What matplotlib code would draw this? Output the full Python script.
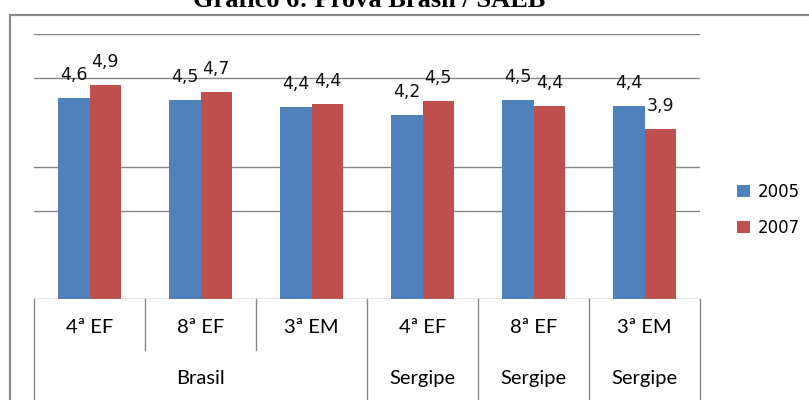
import numpy as np
import matplotlib.pyplot as plt
from matplotlib.patches import Rectangle

# Prova Brasil / SAEB scores
categories = ['4ª EF', '8ª EF', '3ª EM', '4ª EF', '8ª EF', '3ª EM']
groups = ['Brasil', 'Sergipe', 'Sergipe', 'Sergipe']
group_spans = [(0, 3), (3, 4), (4, 5), (5, 6)]
series_names = ['2005', '2007']
values_2005 = [4.56, 4.51, 4.36, 4.17, 4.51, 4.38]
values_2007 = [4.86, 4.69, 4.43, 4.49, 4.38, 3.86]
grid_levels = [2, 3, 5, 6]

blue = '#4F81BD'
red = '#C0504D'
gray = '#868686'

fig = plt.figure(figsize=(8.09, 4.0), dpi=100)
W, H = 809, 400

# outer chart frame
fig.patches.append(Rectangle((10 / W, -0.1), 1.2, (400 - 15) / H + 0.1,
                             transform=fig.transFigure, fill=False,
                             edgecolor='#8c8c8c', linewidth=1.6))

fig.text(369 / W, (400 - 7) / H, 'Gráfico 6: Prova Brasil / SAEB',
         ha='center', va='baseline', fontsize=19, fontweight='bold',
         family='Liberation Serif')

ax = fig.add_axes([34 / W, (400 - 299.3) / H, 666 / W, 265 / H])
x = np.arange(len(categories))
w = 0.285
b1 = ax.bar(x - w / 2, values_2005, w, color=blue, label=series_names[0], zorder=3)
b2 = ax.bar(x + w / 2, values_2007, w, color=red, label=series_names[1], zorder=3)

for bars, vals in [(b1, values_2005), (b2, values_2007)]:
    for rect, v in zip(bars, vals):
        ax.annotate(f'{v:.1f}'.replace('.', ','),
                    (rect.get_x() + rect.get_width() / 2, rect.get_height()),
                    xytext=(0, 13), textcoords='offset points',
                    ha='center', va='baseline', fontsize=12.5,
                    family='DejaVu Sans', color='#111111', zorder=4)

ax.set_xlim(-0.5, 5.5)
ax.set_ylim(0, 6)
for g in grid_levels:
    ax.axhline(g, color=gray, linewidth=1.0, zorder=1)
ax.axhline(0, color=gray, linewidth=1.0, zorder=4)
for s in ax.spines.values():
    s.set_visible(False)
ax.set_xticks([])
ax.set_yticks([])

# two-level category axis
tr = ax.get_xaxis_transform()
for i, c in enumerate(categories):
    ax.text(i, -0.105, c, transform=tr, ha='center', va='center',
            fontsize=14.5, family='Lato')
for k in range(1, 3):
    ax.plot([k - 0.5, k - 0.5], [0, -0.192], transform=tr, color=gray,
            linewidth=1.0, clip_on=False)
for (a, b), g in zip(group_spans, groups):
    ax.plot([a - 0.5, a - 0.5], [0, -0.5], transform=tr, color=gray,
            linewidth=1.0, clip_on=False)
    ax.text((a + b - 1) / 2, -0.297, g, transform=tr, ha='center',
            va='center', fontsize=14.5, family='Lato')
ax.plot([5.5, 5.5], [0, -0.5], transform=tr, color=gray, linewidth=1.0,
        clip_on=False)

fig.legend(handles=[b1, b2], labels=series_names, loc='center left',
           bbox_to_anchor=(722 / W, (400 - 210) / H), frameon=False,
           handlelength=0.75, handleheight=0.75, handletextpad=0.5,
           labelspacing=1.1, prop={'family': 'DejaVu Sans', 'size': 12})

fig.savefig('out.png', dpi=100)
